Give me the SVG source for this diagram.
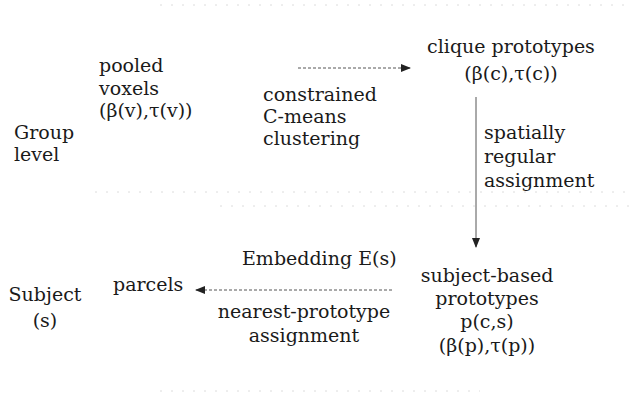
<svg xmlns="http://www.w3.org/2000/svg" width="634" height="398" viewBox="0 0 634 398">
  <style>
    text { font-family: "DejaVu Serif", "Liberation Serif", serif; font-size: 19px; fill: #1a1a1a; }
    .mid { text-anchor: middle; }
    .faint { stroke: #dcdcdc; stroke-width: 1; stroke-dasharray: 2 9; fill: none; }
    .conn { stroke: #555; stroke-width: 1; fill: none; }
    .dotted { stroke-dasharray: 3 2; }
  </style>
  <defs>
    <marker id="head" viewBox="0 0 10 10" refX="9" refY="5" markerWidth="10" markerHeight="10" orient="auto" markerUnits="userSpaceOnUse">
      <path d="M0,1 L10,5 L0,9 Z" fill="#222"/>
    </marker>
  </defs>

  <!-- faint rule lines -->
  <g id="rules">
    <line class="faint" x1="160" y1="5" x2="630" y2="5"/>
    <line class="faint" x1="95" y1="192" x2="630" y2="192"/>
    <line class="faint" x1="220" y1="206" x2="630" y2="206"/>
    <line class="faint" x1="160" y1="391" x2="480" y2="391"/>
  </g>

  <g id="group-level">
    <text x="14" y="139">Group</text>
    <text x="14" y="161">level</text>
  </g>
  <g id="pooled-voxels">
    <text x="99" y="72">pooled</text>
    <text x="99" y="95">voxels</text>
    <text x="99" y="117">(β(v),τ(v))</text>
  </g>
  <g id="clustering-label">
    <text x="263" y="101">constrained</text>
    <text x="263" y="123">C-means</text>
    <text x="263" y="145">clustering</text>
  </g>
  <g id="clique-prototypes">
    <text class="mid" x="511" y="53">clique prototypes</text>
    <text class="mid" x="511" y="80">(β(c),τ(c))</text>
  </g>
  <g id="assignment-label">
    <text x="484" y="139">spatially</text>
    <text x="484" y="163">regular</text>
    <text x="484" y="187">assignment</text>
  </g>
  <g id="subject">
    <text class="mid" x="45" y="301">Subject</text>
    <text class="mid" x="45" y="327">(s)</text>
  </g>
  <g id="parcels">
    <text x="113" y="291">parcels</text>
  </g>
  <g id="embedding-label">
    <text x="242" y="265">Embedding E(s)</text>
  </g>
  <g id="nearest-label">
    <text class="mid" x="304" y="318">nearest-prototype</text>
    <text class="mid" x="304" y="342">assignment</text>
  </g>
  <g id="subject-prototypes">
    <text class="mid" x="487" y="282">subject-based</text>
    <text class="mid" x="487" y="305">prototypes</text>
    <text class="mid" x="487" y="328">p(c,s)</text>
    <text class="mid" x="487" y="352">(β(p),τ(p))</text>
  </g>

  <g id="connectors">
    <line class="conn dotted" x1="298" y1="68" x2="410" y2="68" marker-end="url(#head)"/>
    <line class="conn" x1="476" y1="97" x2="476" y2="247" marker-end="url(#head)"/>
    <line class="conn dotted" x1="392" y1="290" x2="196" y2="290" marker-end="url(#head)"/>
  </g>
</svg>
